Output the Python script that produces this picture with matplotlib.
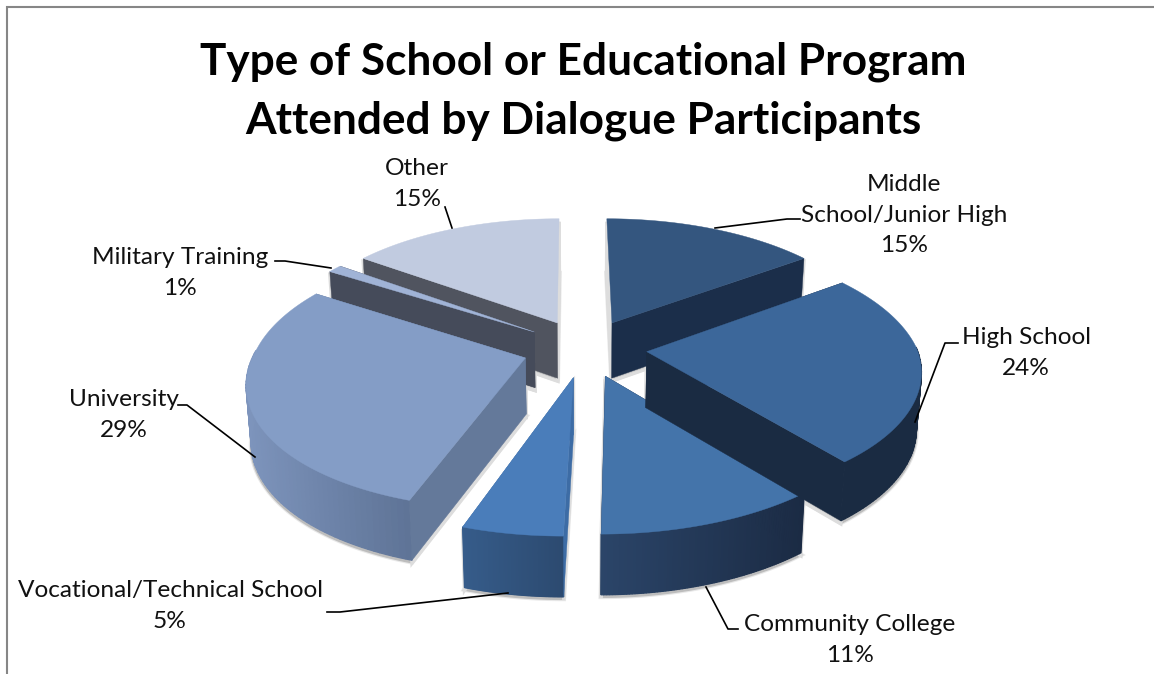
import matplotlib
matplotlib.use("Agg")
import matplotlib.pyplot as plt
from matplotlib.patches import Polygon
import numpy as np

# Data
categories = ["Middle\nSchool/Junior High", "High School", "Community College",
              "Vocational/Technical School", "University", "Military Training", "Other"]
percents = [15, 24, 11, 5, 29, 1, 15]
title = "Type of School or Educational Program\nAttended by Dialogue Participants"

# Slice colours: top face, side face, rim gradient (left to right)
top_colors = ["#34567f", "#3c679a", "#4474aa", "#4a7dba", "#849dc6", "#a0b3d6", "#c1cbe0"]
side_colors = ["#1b2e4a", "#1a2b42", "#1c2c46", "#3d6ca5", "#64799a", "#454b5a", "#50545f"]
rim_left = ["#1b2e4a", "#1a2b42", "#2b4569", "#365c8a", "#7d94bc", "#454b5a", "#50545f"]
rim_right = ["#1b2e4a", "#1a2b42", "#1b2b44", "#2c4a70", "#5f7497", "#454b5a", "#50545f"]

# Label centres and leader lines, in pixels
label_pos = [(904, 215), (1026, 353), (850, 640), (170, 606), (124, 415), (180, 273), (417, 184)]
leaders = [
    [(715, 228), (787, 219), (800, 219)],
    [(915, 422), (945, 343), (958, 343)],
    [(706, 587), (728, 629), (738, 629)],
    [(508, 593), (340, 612), (327, 612)],
    [(255, 457), (187, 405), (178, 405)],
    [(331, 268), (285, 261), (275, 261)],
    [(452, 228), (445, 207)],
]

# Projection of the pie plane
cx, cy = 585, 348
rx, ry = 270, 126
persp_x = 0.15
persp_y = 0.145
shear_front = 6.5
shear_back = -2
wall = 56
explode = 0.23

plt.rcParams['font.family'] = ['Lato', 'DejaVu Sans']


def project(px, py, drop=False):
    px = np.asarray(px, dtype=float)
    py = np.asarray(py, dtype=float)
    dx = 1 + persp_x * py
    dy = 1 + persp_y * py
    shear = np.where(py < 0, shear_front, shear_back)
    sx = cx + rx * px / dx + shear * py / dy
    sy = cy - ry * py / dy
    if drop:
        sx = cx + (sx - cx) * 0.985
        sy = sy + wall / dx**0.4
    return np.column_stack([sx, sy])


def mix(c1, c2, t):
    a = np.array(matplotlib.colors.to_rgb(c1))
    b = np.array(matplotlib.colors.to_rgb(c2))
    return a + (b - a) * t


def cross(u, v):
    return u[0] * v[1] - u[1] * v[0]


fig = plt.figure(figsize=(11.54, 6.74), dpi=100)
ax = fig.add_axes([0, 0, 1, 1])
ax.set_xlim(0, 1154)
ax.set_ylim(674, 0)
ax.axis("off")

# Outer chart frame
ax.plot([7, 7, 1154], [674, 7, 7], color="#868686", lw=1.5, solid_joinstyle="miter")

# Build the geometry of every slice from the percentages
fractions = np.array(percents) / sum(percents)
edges = np.concatenate([[0], np.cumsum(fractions)]) * 2 * np.pi
slices = []
for i in range(len(percents)):
    a0, a1 = edges[i], edges[i + 1]
    mid = (a0 + a1) / 2
    ox, oy = explode * np.sin(mid), explode * np.cos(mid)
    ang = np.linspace(a0, a1, 80)
    slices.append((ox, oy, ang, ox + np.sin(ang), oy + np.cos(ang)))

# Soft shadow under the pie
for ox, oy, ang, rim_x, rim_y in slices:
    top = project(rim_x, rim_y)
    low = project(rim_x, rim_y, drop=True)
    apex_low = project(ox, oy, drop=True)
    apex_top = project(ox, oy)
    outline = np.vstack([apex_low, low])
    for lw, col in ((3.4, "#e8e8e8"), (1.8, "#bdbdbd")):
        ax.add_patch(Polygon(outline + [0, 2], closed=True, fc=col, ec=col, lw=lw, zorder=1))
    for k in (0, -1):
        q = np.array([apex_top[0], top[k], low[k], apex_low[0]]) + [0, 3]
        ax.add_patch(Polygon(q, closed=True, fc="#c4c4c4", ec="#dddddd", lw=2.4, zorder=1))

# Paint from the back of the pie to the front
draw_order = [6, 5, 4, 0, 3, 2, 1]
z = 2
for i in draw_order:
    ox, oy, ang, rim_x, rim_y = slices[i]
    top_rim = project(rim_x, rim_y)
    low_rim = project(rim_x, rim_y, drop=True)
    apex_top = project(ox, oy)[0]
    apex_low = project(ox, oy, drop=True)[0]
    xmin, xmax = top_rim[:, 0].min(), top_rim[:, 0].max()

    # a cut face shows only when its wall hangs outside the top face;
    # the face along the 12 o'clock line points straight away from the viewer
    faces = {"hidden": [], "shown": []}
    for k, other in ((0, -1), (-1, 0)):
        edge = top_rim[k] - apex_top
        inner = cross(edge, top_rim[other] - apex_top)
        if np.cos(ang[k]) > 0.95:
            continue
        if cross(edge, (0, 1)) * inner < 0:
            faces["shown"].append(k)
        else:
            faces["hidden"].append(k)

    def draw_faces(which, zo):
        for k in faces[which]:
            q = [apex_top, top_rim[k], low_rim[k], apex_low]
            ax.add_patch(Polygon(q, closed=True, fc=side_colors[i], ec=side_colors[i], lw=0.3, zorder=zo))

    draw_faces("hidden", z)
    z += 1

    # outer wall, as thin strips so the shading can vary
    for j in range(len(rim_x) - 1):
        if np.cos(ang[j]) > 0.05:
            continue
        t = (top_rim[j, 0] - xmin) / max(xmax - xmin, 1)
        col = mix(rim_left[i], rim_right[i], t)
        q = [top_rim[j], top_rim[j + 1], low_rim[j + 1], low_rim[j]]
        ax.add_patch(Polygon(q, closed=True, fc=col, ec=col, lw=0.9, zorder=z))
    z += 1

    draw_faces("shown", z)
    z += 1

    # top face
    face = np.vstack([apex_top, top_rim])
    ax.add_patch(Polygon(face, closed=True, fc=top_colors[i], ec=top_colors[i], lw=0.3, zorder=z))
    z += 1

# Labels with leader lines
for i, name in enumerate(categories):
    ax.text(label_pos[i][0], label_pos[i][1], f"{name}\n{percents[i]}%", ha="center", va="center",
            fontsize=17.6, linespacing=1.56, color="#111111", zorder=50)
    xs = [p[0] for p in leaders[i]]
    ys = [p[1] for p in leaders[i]]
    ax.plot(xs, ys, color="black", lw=1.2, zorder=49)

ax.text(583, 91, title, ha="center", va="center", fontsize=31.8, fontweight="bold",
        linespacing=1.56, color="black", zorder=50)

fig.savefig("out.png", dpi=100)
